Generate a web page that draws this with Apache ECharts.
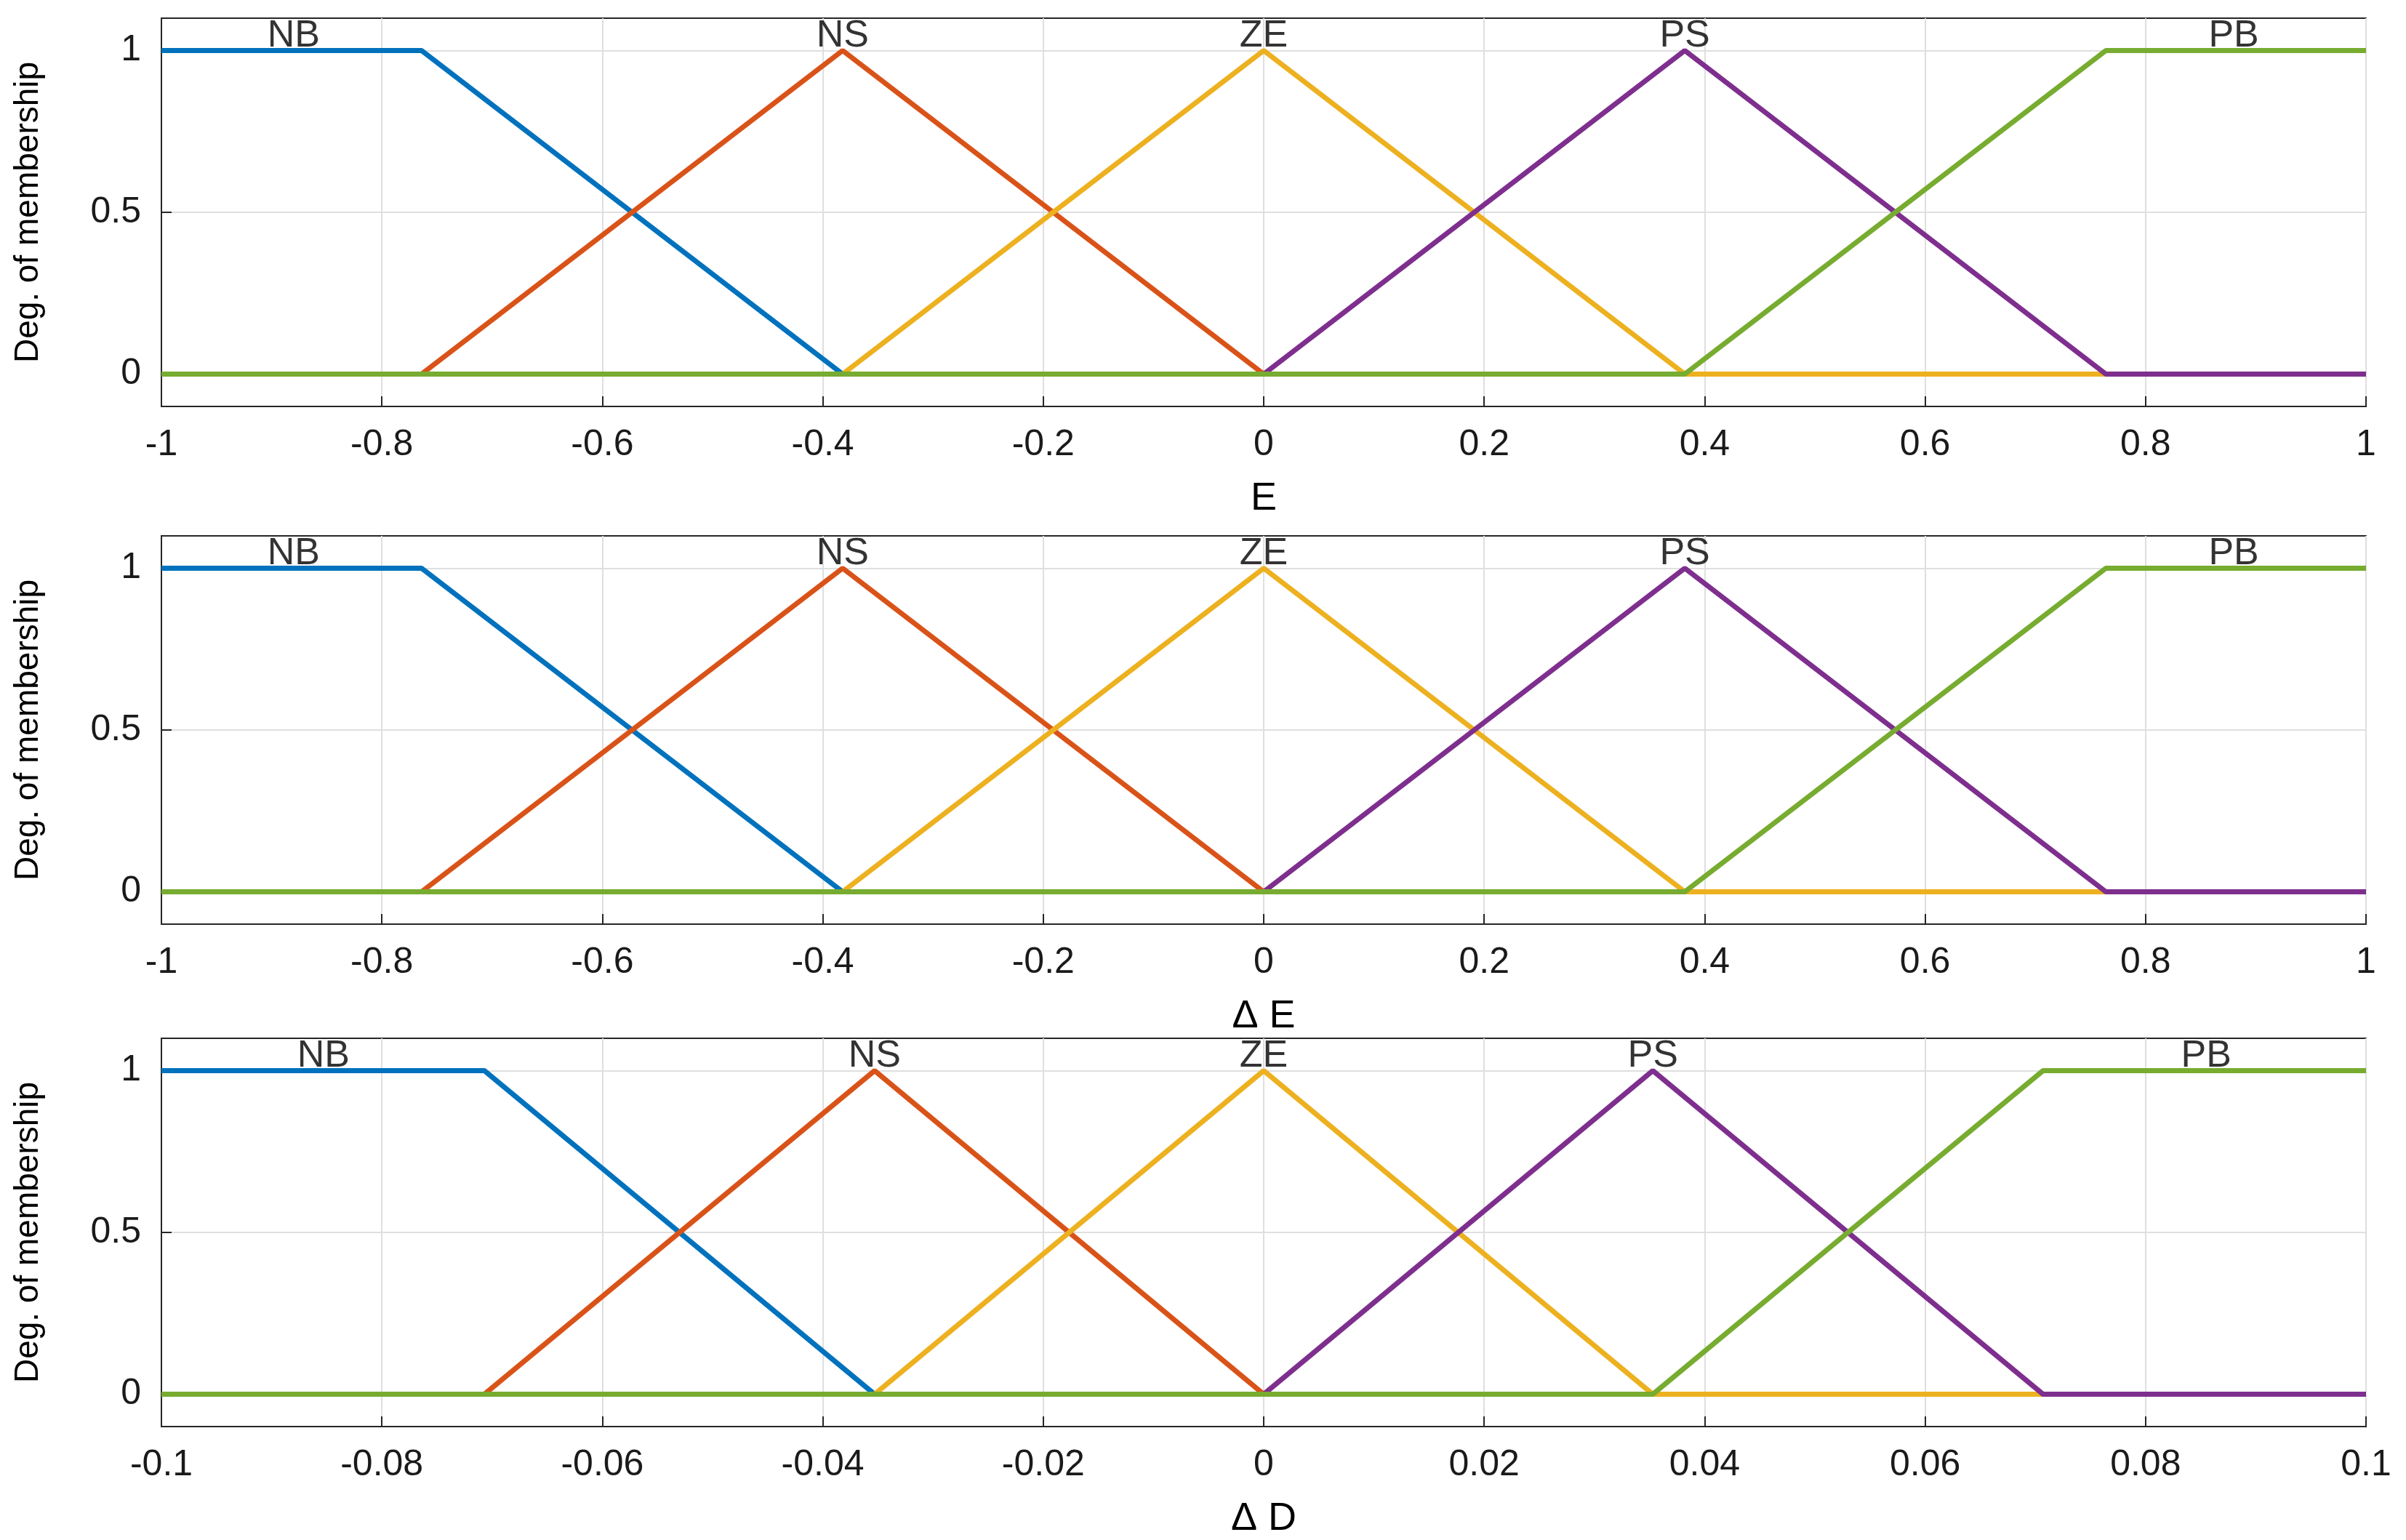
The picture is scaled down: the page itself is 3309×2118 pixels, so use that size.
<!DOCTYPE html>
<html>
<head>
<meta charset="utf-8">
<script src="https://cdn.jsdelivr.net/npm/echarts@6/dist/echarts.min.js"></script>
<style>html,body{margin:0;padding:0;background:#fff}#c{width:3309px;height:2118px}</style>
</head>
<body>
<div id="c"></div>
<script>
// membership function breakpoints (x, y) per panel
const mfNamesE = ['NB', 'NS', 'ZE', 'PS', 'PB'];
const colors = ['#0072BD', '#D95319', '#EDB120', '#7E2F8E', '#77AC30'];

const mfE = [
  [[-1, 1], [-0.764, 1], [-0.382, 0], [1, 0]],
  [[-1, 0], [-0.764, 0], [-0.382, 1], [0, 0], [1, 0]],
  [[-1, 0], [-0.382, 0], [0, 1], [0.382, 0], [1, 0]],
  [[-1, 0], [0, 0], [0.382, 1], [0.764, 0], [1, 0]],
  [[-1, 0], [0.382, 0], [0.764, 1], [1, 1]]
];
const mfD = [
  [[-0.1, 1], [-0.0707, 1], [-0.0353, 0], [0.1, 0]],
  [[-0.1, 0], [-0.0707, 0], [-0.0353, 1], [0, 0], [0.1, 0]],
  [[-0.1, 0], [-0.0353, 0], [0, 1], [0.0353, 0], [0.1, 0]],
  [[-0.1, 0], [0, 0], [0.0353, 1], [0.0707, 0], [0.1, 0]],
  [[-0.1, 0], [0.0353, 0], [0.0707, 1], [0.1, 1]]
];
const labelXE = [-0.88, -0.382, 0, 0.382, 0.88];
const labelXD = [-0.0853, -0.0353, 0, 0.0353, 0.0855];
const labelY = 1.045;

const panels = [
  { mf: mfE, lx: labelXE, min: -1, max: 1, step: 0.2, name: 'E', top: 25 },
  { mf: mfE, lx: labelXE, min: -1, max: 1, step: 0.2, name: 'Δ E', top: 737 },
  { mf: mfD, lx: labelXD, min: -0.1, max: 0.1, step: 0.02, name: 'Δ D', top: 1428 }
];

const font = 'Liberation Sans, Arial, sans-serif';
const chart = echarts.init(document.getElementById('c'));
const grid = [], xAxis = [], yAxis = [], series = [];
const axisLine = { show: true, onZero: false, lineStyle: { color: '#262626', width: 2 } };

panels.forEach((p, i) => {
  grid.push({ left: 222, right: 55, top: p.top, height: 534, show: true,
    borderColor: '#262626', borderWidth: 2, backgroundColor: '#fff' });
  xAxis.push({
    type: 'value', gridIndex: i, min: p.min, max: p.max, interval: p.step,
    name: p.name, nameLocation: 'middle', nameGap: 100,
    nameTextStyle: { fontSize: 54, fontFamily: font, color: '#000' },
    axisLine,
    axisTick: { inside: true, length: 14, lineStyle: { color: '#262626', width: 2 } },
    axisLabel: { fontSize: 50, fontFamily: font, color: '#1a1a1a', margin: 28,
      formatter: v => String(Math.round(v * 1000) / 1000) },
    splitLine: { show: true, lineStyle: { color: '#dfdfdf', width: 2 } }
  });
  yAxis.push({
    type: 'value', gridIndex: i, min: -0.1, max: 1.1,
    name: 'Deg. of membership', nameLocation: 'middle', nameGap: 160,
    nameTextStyle: { fontSize: 46, fontFamily: font, color: '#000' },
    axisLine,
    axisTick: { inside: true, length: 14, customValues: [0, 0.5, 1], lineStyle: { color: '#262626', width: 2 } },
    axisLabel: { fontSize: 50, fontFamily: font, color: '#1a1a1a', margin: 28, customValues: [0, 0.5, 1] },
    splitLine: { show: true, lineStyle: { color: '#dfdfdf', width: 2 } }
  });
  p.mf.forEach((pts, k) => {
    series.push({
      type: 'line', xAxisIndex: i, yAxisIndex: i, data: pts, symbol: 'none',
      lineStyle: { color: colors[k], width: 7 }, z: 3 + k, animation: false
    });
  });
  series.push({
    type: 'scatter', xAxisIndex: i, yAxisIndex: i, symbolSize: 0, z: 20, animation: false,
    data: p.lx.map((x, k) => ({ value: [x, labelY], name: mfNamesE[k] })),
    label: { show: true, position: 'inside', formatter: '{b}', fontSize: 52, fontFamily: font, color: '#000' }
  });
});

chart.setOption({ animation: false, grid, xAxis, yAxis, series });
</script>
</body>
</html>
